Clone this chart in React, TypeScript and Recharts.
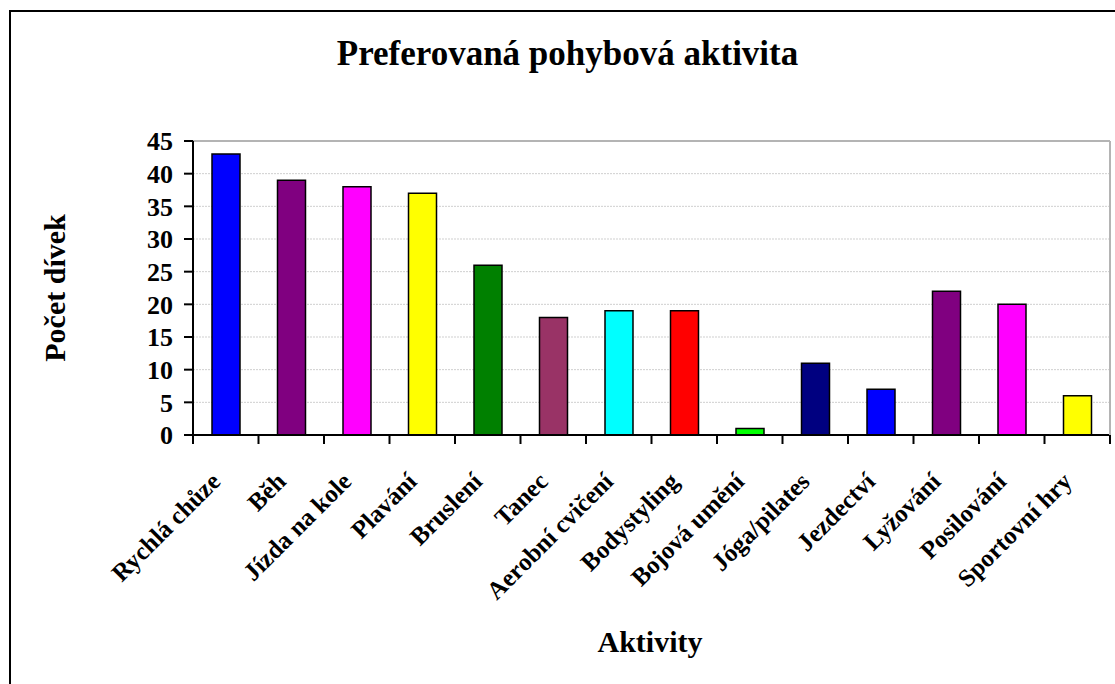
import React from "react";
import { BarChart, Bar, Cell, XAxis, YAxis, CartesianGrid, ReferenceLine } from "recharts";

const CATEGORIES = [
  "Rychlá chůze",
  "Běh",
  "Jízda na kole",
  "Plavání",
  "Bruslení",
  "Tanec",
  "Aerobní cvičení",
  "Bodystyling",
  "Bojová umění",
  "Jóga/pilates",
  "Jezdectví",
  "Lyžování",
  "Posilování",
  "Sportovní hry",
];
const COUNTS = [43, 39, 38, 37, 26, 18, 19, 19, 1, 11, 7, 22, 20, 6];
const Y_TICKS = [0, 5, 10, 15, 20, 25, 30, 35, 40, 45];
const BAR_COLORS = [
  "#0000FF", "#800080", "#FF00FF", "#FFFF00", "#008000", "#993366", "#00FFFF",
  "#FF0000", "#00FF00", "#000080", "#0000FF", "#800080", "#FF00FF", "#FFFF00",
];

const FONT = "'Liberation Serif', 'Times New Roman', serif";
const W = 1115;
const H = 684;
const PLOT_LEFT = 193;
const PLOT_RIGHT = 1110;
const PLOT_TOP = 141;
const PLOT_BOTTOM = 435;
const BAND = (PLOT_RIGHT - PLOT_LEFT) / CATEGORIES.length;

const data = CATEGORIES.map((name, i) => ({ name, value: COUNTS[i] }));

// category label rotated 45°, plus tick marks at the category boundaries
function CategoryTick(props: any) {
  const { x, y, payload, index } = props;
  const left = x - BAND / 2;
  const right = x + BAND / 2;
  return (
    <g>
      <line x1={left} x2={left} y1={PLOT_BOTTOM} y2={PLOT_BOTTOM + 9} stroke="#000" strokeWidth={2} />
      {index === CATEGORIES.length - 1 && (
        <line x1={right} x2={right} y1={PLOT_BOTTOM} y2={PLOT_BOTTOM + 9} stroke="#000" strokeWidth={2} />
      )}
      <text
        transform={`translate(${x - 4},${PLOT_BOTTOM + 48}) rotate(-45)`}
        textAnchor="end"
        fontFamily={FONT}
        fontWeight="bold"
        fontSize={25}
        fill="#000"
      >
        {payload.value}
      </text>
    </g>
  );
}

export default function App() {
  return (
    <div style={{ position: "absolute", left: 0, top: 0, width: W, height: H, overflow: "hidden", background: "#fff" }}>
      <div
        style={{
          position: "absolute",
          left: 9,
          top: 10,
          width: 1300,
          height: 900,
          border: "2px solid #000",
          boxSizing: "border-box",
        }}
      />
      <div
        style={{
          position: "absolute",
          left: 0,
          width: W,
          top: 34,
          textAlign: "center",
          paddingLeft: 20,
          boxSizing: "border-box",
          fontFamily: FONT,
          fontWeight: "bold",
          fontSize: 35,
          lineHeight: "40px",
        }}
      >
        Preferovaná pohybová aktivita
      </div>
      <div
        style={{
          position: "absolute",
          left: 55,
          top: 288,
          transform: "translate(-50%, -50%) rotate(-90deg)",
          whiteSpace: "nowrap",
          fontFamily: FONT,
          fontWeight: "bold",
          fontSize: 30,
          lineHeight: "34px",
        }}
      >
        Počet dívek
      </div>
      <div
        style={{
          position: "absolute",
          left: 650,
          top: 625,
          transform: "translateX(-50%)",
          whiteSpace: "nowrap",
          fontFamily: FONT,
          fontWeight: "bold",
          fontSize: 30,
          lineHeight: "34px",
        }}
      >
        Aktivity
      </div>
      <div style={{ position: "absolute", left: 0, top: 0 }}>
        <BarChart
          width={W}
          height={H}
          data={data}
          margin={{ top: PLOT_TOP, right: W - PLOT_RIGHT, left: PLOT_LEFT - 80, bottom: 49 }}
          barCategoryGap={0}
        >
          <CartesianGrid vertical={false} stroke="#cfcfcf" strokeDasharray="2 1" />
          <ReferenceLine y={45} stroke="#b4b4b4" strokeWidth={2} />
          <XAxis
            dataKey="name"
            interval={0}
            height={PLOT_BOTTOM === 435 ? 200 : 200}
            tickLine={false}
            tickSize={0}
            tickMargin={0}
            tick={<CategoryTick />}
            axisLine={{ stroke: "#000", strokeWidth: 2 }}
          />
          <YAxis
            width={80}
            domain={[0, 45]}
            ticks={Y_TICKS}
            interval={0}
            tickSize={9}
            tickMargin={11}
            axisLine={{ stroke: "#000", strokeWidth: 2 }}
            tickLine={{ stroke: "#000", strokeWidth: 2 }}
            tick={{ fill: "#000", fontFamily: FONT, fontWeight: "bold", fontSize: 26 }}
          />
          <Bar dataKey="value" barSize={28} stroke="#000" strokeWidth={1.5} isAnimationActive={false}>
            {data.map((d, i) => (
              <Cell key={d.name} fill={BAR_COLORS[i]} />
            ))}
          </Bar>
        </BarChart>
      </div>
      <div
        style={{
          position: "absolute",
          left: PLOT_RIGHT - 1,
          top: PLOT_TOP,
          width: 2,
          height: PLOT_BOTTOM - PLOT_TOP,
          background: "#b4b4b4",
        }}
      />
    </div>
  );
}
